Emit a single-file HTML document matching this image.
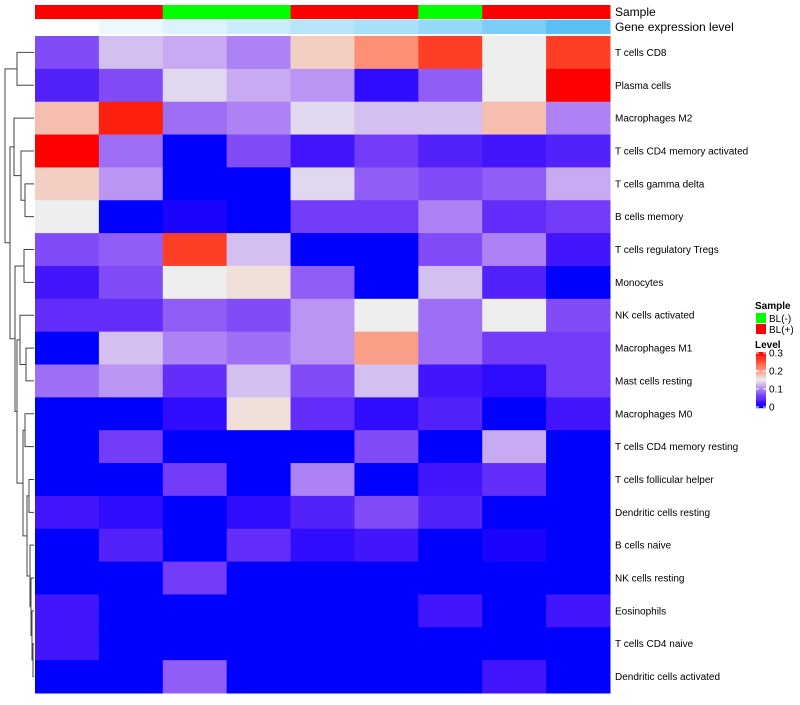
<!DOCTYPE html>
<html><head><meta charset="utf-8"><style>
body{margin:0;background:#fff;font-family:"Liberation Sans",sans-serif}
</style></head><body>
<svg id="c" width="800" height="700" xmlns="http://www.w3.org/2000/svg"></svg>
<script>
const rows=["T cells CD8","Plasma cells","Macrophages M2","T cells CD4 memory activated","T cells gamma delta","B cells memory","T cells regulatory  Tregs","Monocytes","NK cells activated","Macrophages M1","Mast cells resting","Macrophages M0","T cells CD4 memory resting","T cells follicular helper","Dendritic cells resting","B cells naive","NK cells resting","Eosinophils","T cells CD4 naive","Dendritic cells activated"];
const sampleGroup=["BL(+)","BL(+)","BL(-)","BL(-)","BL(+)","BL(+)","BL(-)","BL(+)","BL(+)"];
const geneLevel=[0,0.1,0.2,0.3,0.4,0.5,0.6,0.75,0.95];
const values=[
[0.07,0.13,0.12,0.1,0.17,0.21,0.26,0.15,0.26],
[0.04,0.07,0.14,0.12,0.11,0.02,0.08,0.15,0.3],
[0.18,0.28,0.09,0.1,0.14,0.13,0.13,0.18,0.1],
[0.3,0.09,0,0.07,0.03,0.06,0.04,0.03,0.04],
[0.17,0.11,0,0,0.14,0.08,0.07,0.08,0.12],
[0.15,0,0.01,0,0.06,0.06,0.1,0.05,0.06],
[0.07,0.08,0.26,0.13,0,0,0.07,0.1,0.03],
[0.03,0.07,0.15,0.16,0.08,0,0.13,0.04,0],
[0.05,0.05,0.08,0.07,0.11,0.15,0.09,0.15,0.07],
[0,0.13,0.1,0.09,0.11,0.2,0.09,0.06,0.06],
[0.09,0.11,0.05,0.13,0.07,0.13,0.03,0.02,0.06],
[0,0,0.02,0.16,0.05,0.02,0.04,0,0.03],
[0,0.06,0,0,0,0.07,0,0.12,0],
[0,0,0.06,0,0.1,0,0.03,0.05,0],
[0.03,0.02,0,0.02,0.04,0.07,0.04,0,0],
[0,0.04,0,0.05,0.02,0.03,0,0.01,0],
[0,0,0.06,0,0,0,0,0,0],
[0.03,0,0,0,0,0,0.03,0,0.03],
[0.03,0,0,0,0,0,0,0,0],
[0,0,0.08,0,0,0,0,0.03,0]];
const tree=[5,[17,1,2],[10,[14,3,[21,4,[25,5,6]]],[15,[24,7,8],[17,[20,9,[26,10,11]],[23,[25,12,13],[27,[29,14,15],[30,16,[31,17,[32,18,[33,19,20]]]]]]]]]];

const svg=document.getElementById('c');const NS="http://www.w3.org/2000/svg";
function mk(t,a){const e=document.createElementNS(NS,t);for(const k in a)e.setAttribute(k,a[k]);svg.appendChild(e);return e;}
const X0=35,X1=610,Y0=36,Y1=693,nc=9,nr=rows.length;
const cw=(X1-X0)/nc,rh=(Y1-Y0)/nr;
const xs=i=>X0+i*cw, ys=i=>Y0+i*rh;
function lerp(a,b,t){return a.map((v,i)=>Math.round(v+(b[i]-v)*t));}
function col(v){const m=0.15;let r,g,b;
 if(v<=m){const t=Math.max(0,v/m);r=238*Math.pow(t,0.8);g=238*Math.pow(t,1.5);b=255-17*t;}
 else{const t=Math.min(1,(v-m)/0.15);r=238+17*Math.min(1,2*t);g=238*Math.pow(1-t,1.0);b=238*Math.pow(1-t,1.4);}
 return `rgb(${Math.round(r)},${Math.round(g)},${Math.round(b)})`;}
function blueAnn(t){const c=lerp([255,255,255],[80,190,243],t);return `rgb(${c})`;}
for(let j=0;j<nc;j++){
 let r=mk('rect',{x:xs(j),y:5,width:cw+0.5,height:14,fill:sampleGroup[j]==="BL(+)"?"#ff0000":"#00ff00"});
 
 
 r=mk('rect',{x:xs(j),y:20,width:cw+0.5,height:14,fill:blueAnn(geneLevel[j])});
 
 
}
for(let i=0;i<nr;i++){for(let j=0;j<nc;j++){
 const r=mk('rect',{x:xs(j),y:ys(i),width:cw+0.5,height:rh+0.5,fill:col(values[i][j])});
 
 
}
 const t=mk('text',{x:615,y:ys(i)+rh/2+3.5,'font-size':10,fill:'#000'});t.textContent=rows[i];
 
 
}
let t=mk('text',{x:615,y:16,'font-size':12});t.textContent="Sample";

t=mk('text',{x:615,y:31,'font-size':12});t.textContent="Gene expression level";

function draw(n){if(typeof n==='number')return {x:X0-1,y:ys(n-1)+rh/2};
 const a=draw(n[1]),b=draw(n[2]),h=n[0];
 const p=mk('path',{d:`M${a.x},${a.y}H${h}V${b.y}H${b.x}`,fill:'none',stroke:'#444','stroke-width':1});
 
 return {x:h,y:(a.y+b.y)/2};}
draw(tree);
t=mk('text',{x:755,y:309,'font-size':10,'font-weight':'bold'});t.textContent="Sample";

[["BL(-)","#00ff00",313],["BL(+)","#ff0000",324]].forEach(d=>{
 const r=mk('rect',{x:756,y:d[2],width:10,height:10,fill:d[1]});
 
 const tt=mk('text',{x:769,y:d[2]+9,'font-size':10});tt.textContent=d[0];
 });
t=mk('text',{x:755,y:348,'font-size':10,'font-weight':'bold'});t.textContent="Level";

for(let k=0;k<40;k++){const v=0.3*(1-k/39);const r=mk('rect',{x:756,y:352+k*1.4,width:10,height:1.6,fill:col(v)});
 }
const levTicks=["0.3","0.2","0.1","0"];
levTicks.forEach((s,k)=>{const y=353+(1-parseFloat(s)/0.3)*54;
 const tt=mk('text',{x:769,y:y+3.5,'font-size':10});tt.textContent=s;
 
 mk('line',{x1:756,x2:759,y1:y,y2:y,stroke:'#fff'});mk('line',{x1:763,x2:766,y1:y,y2:y,stroke:'#fff'});});
</script>
</body></html>
